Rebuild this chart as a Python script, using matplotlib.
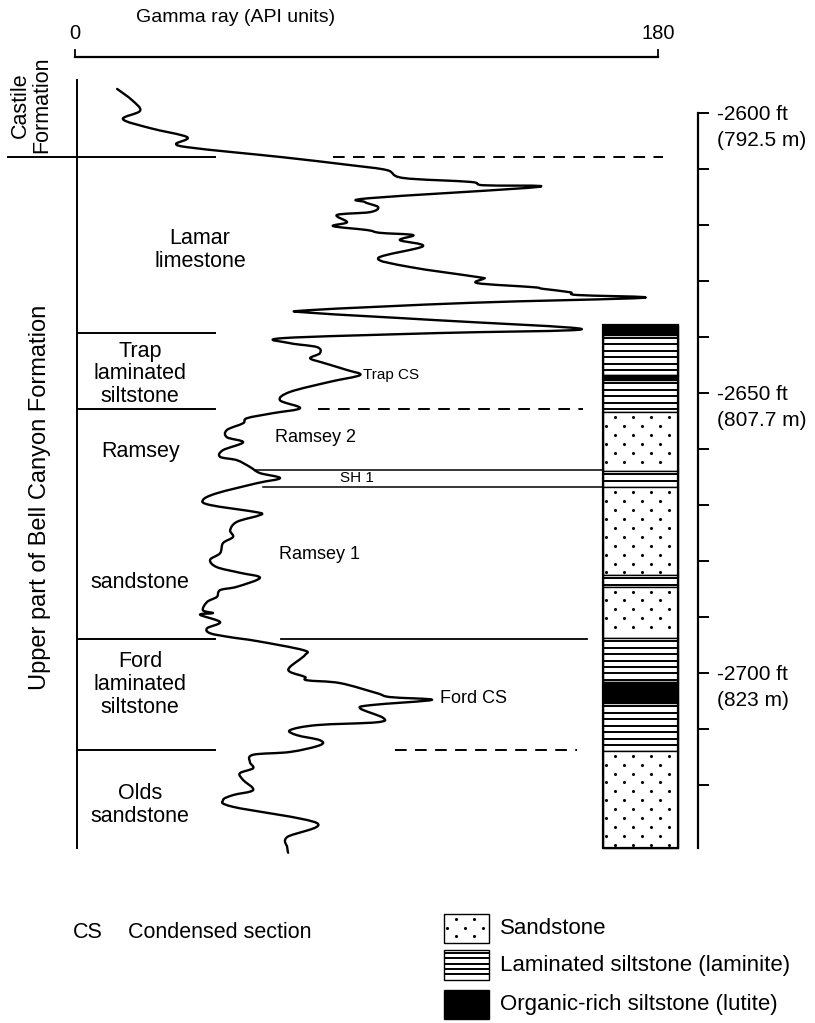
import matplotlib
matplotlib.use("Agg")
import matplotlib.pyplot as plt
from matplotlib.patches import Rectangle, PathPatch
from matplotlib.path import Path
import numpy as np

plt.rcParams['font.family'] = ['Liberation Sans', 'DejaVu Sans']

# ---------------- data ----------------
# gamma-ray log: API units vs depth (ft below datum, shown as negative)
gamma_api = [13.0, 17.6, 20.1, 14.8, 23.2, 34.6, 31.2, 34.6, 48.8, 64.2,
             84.9, 96.3, 101.3, 122.0, 126.0, 143.0, 91.1, 89.5, 93.6, 91.1,
             80.9, 84.0, 79.7, 90.2, 94.2, 104.4, 100.3, 107.4, 93.6, 103.4,
             124.4, 126.0, 124.4, 141.4, 144.5, 152.8, 155.0, 175.4, 122.0, 72.6,
             73.5, 111.8, 156.5, 111.8, 64.2, 66.4, 74.7, 75.6, 72.6, 76.6,
             84.0, 88.0, 78.7, 66.4, 63.3, 69.5, 61.1, 53.1, 51.9, 46.9,
             46.9, 51.9, 45.7, 44.8, 50.0, 54.0, 57.1, 63.3, 56.2, 43.8,
             39.5, 41.7, 56.2, 57.1, 50.0, 47.9, 48.8, 45.7, 44.8, 41.7,
             43.8, 50.9, 57.1, 50.0, 44.8, 43.8, 40.8, 39.5, 42.6, 38.6,
             44.8, 40.8, 41.7, 47.9, 56.2, 70.4, 71.0, 66.4, 66.4, 71.0,
             71.6, 81.8, 93.2, 97.3, 110.2, 92.0, 88.0, 95.1, 93.2, 74.7,
             66.4, 68.5, 75.6, 75.6, 66.4, 55.0, 54.0, 55.0, 50.9, 51.9,
             55.0, 48.8, 45.7, 48.8, 74.7, 65.5, 65.5, 65.8]
gamma_depth = [2595.7, 2597.7, 2599.6, 2601.1, 2602.7, 2604.3, 2605.5, 2606.1, 2607.0, 2607.9,
               2609.3, 2610.2, 2611.6, 2612.3, 2612.9, 2613.2, 2615.2, 2615.9, 2616.8, 2617.7,
               2618.2, 2619.5, 2620.2, 2620.9, 2621.4, 2621.8, 2622.7, 2623.8, 2625.9, 2627.5,
               2629.3, 2629.6, 2630.4, 2631.1, 2631.4, 2632.0, 2632.5, 2633.0, 2633.9, 2635.2,
               2635.7, 2637.0, 2638.6, 2639.3, 2640.2, 2641.1, 2641.8, 2642.9, 2643.8, 2644.6,
               2645.9, 2646.8, 2648.0, 2649.8, 2651.3, 2652.7, 2653.6, 2654.5, 2655.4, 2656.6,
               2657.9, 2658.8, 2660.2, 2661.4, 2662.0, 2663.2, 2664.3, 2665.2, 2666.1, 2667.9,
               2669.1, 2670.0, 2671.3, 2671.8, 2673.0, 2674.5, 2675.7, 2676.8, 2678.6, 2679.8,
               2681.1, 2682.1, 2683.0, 2684.6, 2685.2, 2686.4, 2687.3, 2688.8, 2689.3, 2689.6,
               2690.9, 2692.0, 2692.9, 2693.6, 2694.3, 2695.9, 2696.8, 2698.9, 2699.8, 2700.7,
               2701.3, 2701.8, 2703.6, 2704.3, 2704.8, 2705.7, 2706.3, 2708.0, 2708.8, 2709.3,
               2710.2, 2711.1, 2712.0, 2712.9, 2714.1, 2714.6, 2715.9, 2717.0, 2717.9, 2719.1,
               2720.9, 2721.8, 2722.7, 2723.9, 2726.8, 2729.3, 2731.1, 2732.1]

# formation boundaries (ft)
castile_base = 2607.9
unit_bounds = [2639.3, 2652.9, 2693.9, 2713.75]
log_top, log_base = 2594.1, 2731.25

# correlation lines on the log
corr_depth = [2607.9, 2652.9, 2693.9, 2713.75]
corr_x0 = [79.7, 75.0, 63.6, 98.8]
corr_x1 = [181.5, 156.8, 158.1, 155.0]
corr_style = ['dashed', 'dashed', 'solid', 'dashed']

# SH 1 shale band
sh1_top, sh1_base = 2663.75, 2666.8
sh1_x0 = [55.6, 58.0]

# lithology column
litho_top = [2637.9, 2639.6, 2646.8, 2647.7, 2653.4, 2663.9, 2666.8, 2682.5, 2684.6,
             2693.75, 2701.6, 2705.4, 2713.9]
litho_base = [2639.6, 2646.8, 2647.7, 2653.4, 2663.9, 2666.8, 2682.5, 2684.6, 2693.75,
              2701.6, 2705.4, 2713.9, 2731.25]
litho_type = ['lutite', 'laminite', 'lutite', 'laminite', 'sandstone', 'laminite', 'sandstone',
              'laminite', 'sandstone', 'laminite', 'lutite', 'laminite', 'sandstone']

# depth scale
depth_ticks = [2600, 2610, 2620, 2630, 2640, 2650, 2660, 2670, 2680, 2690, 2700, 2710, 2720]
depth_labels = {2600: ('-2600 ft', '(792.5 m)'), 2650: ('-2650 ft', '(807.7 m)'),
                2700: ('-2700 ft', '(823 m)')}

gamma_min, gamma_max = 0, 180

# unit names
unit_names = ['Lamar\nlimestone', 'Trap\nlaminated\nsiltstone', 'Ramsey', 'sandstone',
              'Ford\nlaminated\nsiltstone', 'Olds\nsandstone']
unit_name_x = [38.6, 20.1, 20.1, 20.1, 20.1, 20.1]
unit_name_y = [2624.4, 2646.6, 2660.5, 2683.9, 2702.0, 2723.5]

# ---------------- layout constants ----------------
COL_X0, COL_X1 = 163.0, 186.2
AX_X = 192.35
ink = 'black'

fig = plt.figure(figsize=(8.15, 10.23), dpi=100)
ax = fig.add_axes([0, 0, 1, 1])
ax.set_xlim(-23.16, 228.47)
ax.set_ylim(2762.5, 2579.82)
ax.axis('off')

# top gamma scale
ax.plot([gamma_min, gamma_max], [2590, 2590], color=ink, lw=1.6)
for g in (gamma_min, gamma_max):
    ax.plot([g, g], [2590, 2588.7], color=ink, lw=1.3)
ax.text(gamma_min, 2585.8, '0', ha='center', va='center', fontsize=14.5)
ax.text(gamma_max, 2585.8, '180', ha='center', va='center', fontsize=14.5)
ax.text(49.7, 2582.9, 'Gamma ray (API units)', ha='center', va='center', fontsize=14)

# formation frame
ax.plot([0.6, 0.6], [log_top, log_base], color=ink, lw=1.4)
ax.plot([-20.7, 43.2], [castile_base, castile_base], color=ink, lw=1.4)
for d in unit_bounds:
    ax.plot([0.6, 43.2], [d, d], color=ink, lw=1.4)

for d, x0, x1, st in zip(corr_depth, corr_x0, corr_x1, corr_style):
    if st == 'dashed':
        ax.plot([x0, x1], [d, d], color=ink, lw=1.4, linestyle=(0, (6, 4.3)))
    else:
        ax.plot([x0, x1], [d, d], color=ink, lw=1.3)

for d, x0 in zip([sh1_top, sh1_base], sh1_x0):
    ax.plot([x0, COL_X0], [d, d], color=ink, lw=1.1)

P = np.column_stack([gamma_api, gamma_depth])
verts = [P[0]]
codes = [Path.MOVETO]
n = len(P)
for i in range(n - 1):
    p0 = P[i - 1] if i > 0 else P[i]
    p1, p2 = P[i], P[i + 1]
    p3 = P[i + 2] if i + 2 < n else P[i + 1]
    verts += [p1 + (p2 - p0) / 6.0, p2 - (p3 - p1) / 6.0, p2]
    codes += [Path.CURVE4] * 3
ax.add_patch(PathPatch(Path(verts, codes), facecolor='none', edgecolor=ink, lw=1.7,
                       joinstyle='round', capstyle='round'))

# labels
for t, x, y in zip(unit_names, unit_name_x, unit_name_y):
    ax.text(x, y, t, ha='center', va='center', fontsize=15.5, linespacing=1.12)
ax.text(-13.6, 2598.6, 'Castile\nFormation', rotation=90, ha='center', va='center',
        fontsize=15.5, linespacing=1.0)
ax.text(-10.8, 2668.6, 'Upper part of Bell Canyon Formation', rotation=90, ha='center',
        va='center', fontsize=17)
ax.text(74.4, 2658.0, 'Ramsey 2', ha='center', va='center', fontsize=13)
ax.text(75.6, 2678.9, 'Ramsey 1', ha='center', va='center', fontsize=13)
ax.text(87.1, 2665.25, 'SH 1', ha='center', va='center', fontsize=11)
ax.text(88.9, 2646.8, 'Trap CS', ha='left', va='center', fontsize=11)
ax.text(112.7, 2704.5, 'Ford CS', ha='left', va='center', fontsize=13)

# lithology column
def draw_sand(x0, x1, top, base):
    rows = np.arange(top + 0.85, base - 0.3, 1.6)
    for i, r in enumerate(rows):
        start = x0 + 0.9 + (2.8 if i % 2 == 0 else 0.0)
        xs = np.arange(start, x1 - 0.3, 5.6)
        ax.scatter(xs, np.full_like(xs, r), s=5, color=ink, linewidths=0, zorder=3)

def draw_lam(x0, x1, top, base, step=1.15):
    for d in np.arange(top + step * 0.5, base - 0.2, step):
        ax.plot([x0, x1], [d, d], color=ink, lw=1.4, solid_capstyle='butt', zorder=3)

for top, base, kind in zip(litho_top, litho_base, litho_type):
    fc = ink if kind == 'lutite' else 'white'
    ax.add_patch(Rectangle((COL_X0, top), COL_X1 - COL_X0, base - top, facecolor=fc,
                           edgecolor=ink, lw=1.0, zorder=2))
    if kind == 'sandstone':
        draw_sand(COL_X0, COL_X1, top, base)
    elif kind == 'laminite':
        draw_lam(COL_X0, COL_X1, top, base)
ax.add_patch(Rectangle((COL_X0, litho_top[0]), COL_X1 - COL_X0, litho_base[-1] - litho_top[0],
                       facecolor='none', edgecolor=ink, lw=1.6, zorder=4))

# depth scale
ax.plot([AX_X, AX_X], [depth_ticks[0], log_base], color=ink, lw=1.6)
for d in depth_ticks:
    ax.plot([AX_X, AX_X + 3.0], [d, d], color=ink, lw=1.4)
for d, (l1, l2) in depth_labels.items():
    ax.text(198.2, d + 0.35, l1, ha='left', va='center', fontsize=15)
    ax.text(198.2, d + 4.9, l2, ha='left', va='center', fontsize=15)

# legend
ax.text(-0.6, 2746.4, 'CS', ha='left', va='center', fontsize=15.5)
ax.text(16.4, 2746.4, 'Condensed section', ha='left', va='center', fontsize=15.5)
LX0, LX1 = 113.9, 127.8
leg_top = [2743.0, 2749.5, 2756.6]
leg_base = [2748.2, 2754.8, 2761.8]
leg_kind = ['sandstone', 'laminite', 'lutite']
leg_text = ['Sandstone', 'Laminated siltstone (laminite)', 'Organic-rich siltstone (lutite)']
for top, base, kind, txt in zip(leg_top, leg_base, leg_kind, leg_text):
    fc = ink if kind == 'lutite' else 'white'
    ax.add_patch(Rectangle((LX0, top), LX1 - LX0, base - top, facecolor=fc, edgecolor=ink,
                           lw=1.0, zorder=2))
    if kind == 'sandstone':
        draw_sand(LX0, LX1, top, base)
    elif kind == 'laminite':
        draw_lam(LX0, LX1, top, base, step=0.95)
    ax.text(131.2, (top + base) / 2, txt, ha='left', va='center', fontsize=16)

fig.savefig('out.png', dpi=100, facecolor='white')
